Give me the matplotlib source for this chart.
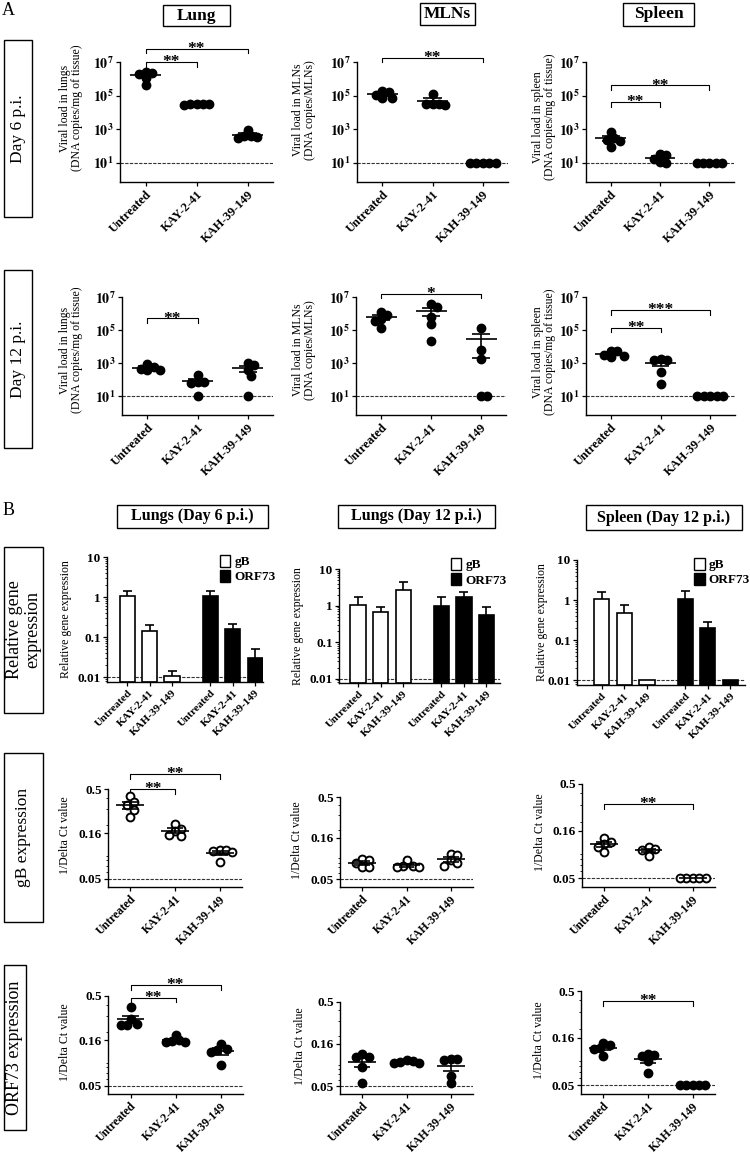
import numpy as np
import matplotlib
matplotlib.use("Agg")
import matplotlib.pyplot as plt
from matplotlib.patches import Rectangle
from matplotlib.ticker import LogLocator, NullFormatter
from matplotlib.transforms import blended_transform_factory

plt.rcParams["font.family"] = ["Liberation Serif", "DejaVu Serif"]
plt.rcParams["mathtext.fontset"] = "stix"

W, H = 750, 1154

GROUPS = ["Untreated", "KAY-2-41", "KAH-39-149"]

# ---------------------------------------------------------------------------
# Data
# ---------------------------------------------------------------------------

# A: viral load, log10 DNA copies (per mg tissue / per MLNs)
lung_d6 = [[6.42, 6.34, 6.28, 6.03, 5.62], [4.52, 4.50, 4.49, 4.47, 4.45], [2.95, 2.58, 2.58, 2.52, 2.48]]
mln_d6 = [[5.30, 5.20, 5.05, 4.85, 4.85], [5.10, 4.50, 4.50, 4.50, 4.45], [1, 1, 1, 1, 1]]
spleen_d6 = [[2.80, 2.45, 2.35, 2.30, 1.95], [1.50, 1.45, 1.20, 1.05, 1.00], [1, 1, 1, 1, 1]]
lung_d12 = [[2.95, 2.75, 2.65, 2.60, 2.55], [2.30, 1.84, 1.84, 1.76, 1.00], [3.00, 2.90, 2.56, 2.20, 1.00]]
mln_d12 = [[6.10, 5.90, 5.65, 5.55, 5.10], [6.56, 6.40, 5.76, 5.34, 4.34], [5.15, 3.78, 3.22, 1, 1]]
spleen_d12 = [[3.75, 3.70, 3.50, 3.45, 3.35], [3.24, 3.16, 3.16, 2.44, 1.70], [1, 1, 1, 1, 1]]

# B: relative gene expression (gB x3, ORF73 x3), bar height and upper SEM
rel_lung_d6 = [1.05, 0.14, 0.0105, 1.04, 0.16, 0.030]
rel_lung_d6_err = [0.35, 0.06, 0.004, 0.38, 0.05, 0.021]
rel_lung_d12 = [1.04, 0.66, 2.7, 1.0, 1.7, 0.54]
rel_lung_d12_err = [0.66, 0.28, 1.7, 0.7, 0.6, 0.35]
rel_spleen_d12 = [1.08, 0.48, 0.0104, 1.08, 0.20, 0.0104]
rel_spleen_d12_err = [0.55, 0.26, 0.0, 0.62, 0.09, 0.0]

# B: 1/Delta Ct values
gb_lung_d6 = [[0.42, 0.36, 0.33, 0.29, 0.245], [0.205, 0.18, 0.17, 0.155, 0.15], [0.105, 0.104, 0.103, 0.10, 0.077]]
gb_lung_d12 = [[0.089, 0.085, 0.080, 0.071, 0.070], [0.085, 0.073, 0.072, 0.071, 0.071], [0.103, 0.100, 0.085, 0.080, 0.073]]
gb_spleen_d12 = [[0.135, 0.12, 0.115, 0.108, 0.095], [0.107, 0.103, 0.099, 0.086], [0.05, 0.05, 0.05, 0.05, 0.05]]
orf_lung_d6 = [[0.375, 0.28, 0.245, 0.24, 0.235], [0.185, 0.16, 0.157, 0.155, 0.154], [0.146, 0.127, 0.125, 0.12, 0.085]]
orf_lung_d12 = [[0.12, 0.11, 0.11, 0.085, 0.054], [0.103, 0.10, 0.097, 0.095, 0.094], [0.105, 0.104, 0.102, 0.066, 0.054]]
orf_spleen_d12 = [[0.141, 0.134, 0.123, 0.12, 0.102], [0.107, 0.105, 0.103, 0.09, 0.067], [0.05, 0.05, 0.05, 0.05, 0.05]]

fig = plt.figure(figsize=(W / 100, H / 100), dpi=100)


def add_ax(l, t, r, b):
    """Axes placed in pixel coordinates (left, top, right, bottom)."""
    ax = fig.add_axes([l / W, 1 - b / H, (r - l) / W, (b - t) / H])
    ax.spines[["top", "right"]].set_visible(False)
    for s in ("left", "bottom"):
        ax.spines[s].set_linewidth(1.0)
    ax.tick_params(axis="both", which="major", direction="out", length=3, width=0.9, pad=1.5)
    ax.tick_params(axis="y", which="minor", direction="out", length=1.6, width=0.6)
    return ax


def box_text(txt, l, t, r, b, size, weight="normal", rot=0):
    fig.add_artist(Rectangle((l / W, 1 - b / H), (r - l) / W, (b - t) / H,
                             transform=fig.transFigure, fill=False, ec="k", lw=1.0))
    fig.text((l + r) / 2 / W, 1 - (t + b) / 2 / H, txt, ha="center", va="center",
             fontsize=size, fontweight=weight, rotation=rot, linespacing=1.1)


def swarm_offsets(ax, vals, dot_px=8.0, overlap=0.8):
    pos = ax.get_position()
    w_px, h_px = pos.width * W, pos.height * H
    lo, hi = np.log10(ax.get_ylim())
    x0, x1 = ax.get_xlim()
    ys = (np.log10(vals) - lo) / (hi - lo) * h_px
    d = dot_px * overlap
    placed, offs = [], []
    for y in ys:
        for k in range(60):
            c = ((k + 1) // 2) * d * 0.5 * (1 if k % 2 else -1)
            if all((c - px) ** 2 + (y - py) ** 2 >= d * d for px, py in placed):
                break
        placed.append((c, y))
        offs.append(c)
    return np.array(offs) * (x1 - x0) / w_px


def mean_sem(ax, x, v, mw=0.31, sw=0.18):
    m = v.mean()
    s = v.std(ddof=1) / np.sqrt(len(v))
    kw = dict(color="k", lw=1.2, zorder=4)
    ax.hlines(m, x - mw, x + mw, **kw)
    if s > 0:
        lo = max(m - s, ax.get_ylim()[0])
        ax.vlines(x, lo, m + s, **kw)
        ax.hlines([lo, m + s], x - sw, x + sw, **kw)


def bracket(ax, i, j, y, stars):
    tr = blended_transform_factory(ax.transData, ax.transAxes)
    lo, hi = np.log10(ax.get_ylim())
    yf = (np.log10(y) - lo) / (hi - lo)
    drop = 4.5 / (ax.get_position().height * H)
    ax.plot([i, i, j, j], [yf - drop, yf, yf, yf - drop], color="k", lw=0.8,
            transform=tr, clip_on=False)
    ax.annotate(stars, xy=((i + j) / 2, yf), xycoords=tr, xytext=(0, -3.0),
                textcoords="offset points", ha="center", va="baseline",
                fontsize=12.5, fontweight="bold", annotation_clip=False)


def scatter_panel(rect, groups, ylim, ticks, ticklabels, dl, ylabel, ylabel_pos, sig,
                  filled=True, tickfont=10, xfont=9, ylabfont=8.5):
    ax = add_ax(*rect)
    ax.set_yscale("log")
    ax.set_ylim(*ylim)
    ax.set_xlim(-0.5, 2.5)
    ax.axhline(dl, color="#333333", lw=0.8, ls=(0, (3, 1.2)), zorder=1)
    for i, vals in enumerate(groups):
        v = np.asarray(vals, float)
        off = swarm_offsets(ax, v)
        ax.scatter(i + off, v, s=32, facecolor="k" if filled else "white",
                   edgecolor="k", lw=1.4, zorder=3, clip_on=False)
        mean_sem(ax, i, v)
    ax.set_xticks(range(3))
    ax.set_xticklabels(GROUPS, rotation=45, ha="right", rotation_mode="anchor",
                       fontsize=xfont, fontweight="bold")
    ax.set_yticks(ticks)
    ax.set_yticklabels(ticklabels, fontsize=tickfont, fontweight="bold")
    for i, j, y, stars in sig:
        bracket(ax, i, j, y, stars)
    l, t, r, b = rect
    lx, ly = ylabel_pos
    fig.text(lx / W, 1 - ly / H, ylabel, rotation=90, ha="center",
             va="center", fontsize=ylabfont, linespacing=1.05)
    return ax


def bar_panel(rect, heights, errs, xlim, ylabel_x, leg_anchor):
    ax = add_ax(*rect)
    ax.set_yscale("log")
    ylo = 10 ** -2.12
    ax.set_ylim(ylo, 10)
    ax.set_xlim(*xlim)
    xs = np.r_[np.arange(3), np.arange(3) + 3.7]
    colors = ["white"] * 3 + ["black"] * 3
    h = np.asarray(heights, float)
    e = np.asarray(errs, float)
    ax.bar(xs, h - ylo, bottom=ylo, width=0.68, color=colors, edgecolor="k", lw=1.2, zorder=2)
    for x, hh, ee in zip(xs, h, e):
        if ee > 0:
            ax.vlines(x, hh, hh + ee, color="k", lw=1.2, zorder=3)
            ax.hlines(hh + ee, x - 0.2, x + 0.2, color="k", lw=1.2, zorder=3)
    ax.axhline(0.01, color="#333333", lw=0.8, ls=(0, (3, 1.2)), zorder=1)
    ax.set_xticks(xs)
    ax.set_xticklabels(GROUPS * 2, rotation=45, ha="right", rotation_mode="anchor",
                       fontsize=8, fontweight="bold")
    ax.set_yticks([0.01, 0.1, 1, 10])
    ax.set_yticklabels(["0.01", "0.1", "1", "10"], fontsize=9.5, fontweight="bold")
    ax.yaxis.set_minor_locator(LogLocator(subs="auto"))
    ax.yaxis.set_minor_formatter(NullFormatter())
    handles = [Rectangle((0, 0), 1, 1, fc="white", ec="k", lw=1.0),
               Rectangle((0, 0), 1, 1, fc="black", ec="k", lw=1.0)]
    ax.legend(handles, ["gB", "ORF73"], loc="upper right", bbox_to_anchor=leg_anchor,
              frameon=False, prop={"weight": "bold", "size": 9.5}, handlelength=0.8,
              handleheight=1.1, handletextpad=0.3, labelspacing=0.1, borderpad=0,
              borderaxespad=0)
    l, t, r, b = rect
    fig.text(ylabel_x / W, 1 - (t + b) / 2 / H, "Relative gene expression", rotation=90,
             ha="center", va="center", fontsize=8.5)
    return ax


# ---------------------------------------------------------------------------
# Section A
# ---------------------------------------------------------------------------
fig.text(2 / W, 1 - 2 / H, "A", ha="left", va="top", fontsize=13)
box_text("Lung", 163, 5, 230, 26, 12.5, "bold")
box_text("MLNs", 420, 3, 475, 25, 12.5, "bold")
box_text("Spleen", 623, 3, 694, 26, 12.5, "bold")
box_text("Day 6 p.i.", 4, 40, 32, 217, 12.5, rot=90)
box_text("Day 12 p.i.", 4, 270, 32, 448, 12.5, rot=90)

A_LIM = (10 ** -0.15, 1e7)
A_TICKS = [1e1, 1e3, 1e5, 1e7]
A_LABELS = [r"$\mathbf{10^{%d}}$" % k for k in (1, 3, 5, 7)]
lab_lung = "Viral load in lungs\n(DNA copies/mg of tissue)"
lab_mln = "Viral load in MLNs\n(DNA copies/MLNs)"
lab_spl = "Viral load in spleen\n(DNA copies/mg of tissue)"


def to_copies(d):
    return [10.0 ** np.asarray(g, float) for g in d]


scatter_panel((120, 62, 273, 182), to_copies(lung_d6), A_LIM, A_TICKS, A_LABELS, 10,
              lab_lung, (71, 108), [(0, 1, 1e7, "**"), (0, 2, 10 ** 7.8, "**")])
scatter_panel((357, 62, 508, 182), to_copies(mln_d6), A_LIM, A_TICKS, A_LABELS, 10,
              lab_mln, (304, 110), [(0, 2, 10 ** 7.25, "**")])
scatter_panel((586, 62, 734, 182), to_copies(spleen_d6), A_LIM, A_TICKS, A_LABELS, 10,
              lab_spl, (544, 117), [(0, 1, 10 ** 4.6, "**"), (0, 2, 10 ** 5.6, "**")])

scatter_panel((122, 297, 273, 415), to_copies(lung_d12), A_LIM, A_TICKS, A_LABELS, 10,
              lab_lung, (71, 350), [(0, 1, 10 ** 5.7, "**")])
scatter_panel((356, 297, 506, 415), to_copies(mln_d12), A_LIM, A_TICKS, A_LABELS, 10,
              lab_mln, (304, 350), [(0, 2, 10 ** 7.2, "*")])
scatter_panel((586, 297, 735, 415), to_copies(spleen_d12), A_LIM, A_TICKS, A_LABELS, 10,
              lab_spl, (544, 352), [(0, 1, 10 ** 5.15, "**"), (0, 2, 10 ** 6.2, "***")])

# ---------------------------------------------------------------------------
# Section B
# ---------------------------------------------------------------------------
fig.text(3 / W, 1 - 502 / H, "B", ha="left", va="top", fontsize=13)
box_text("Lungs (Day 6 p.i.)", 117, 505, 268, 528, 11.5, "bold")
box_text("Lungs (Day 12 p.i.)", 338, 505, 495, 528, 11.5, "bold")
box_text("Spleen (Day 12 p.i.)", 586, 505, 742, 530, 11.5, "bold")
box_text("Relative gene\nexpression", 4, 547, 43, 713, 13, rot=90)
box_text("gB expression", 4, 753, 43, 922, 12.5, rot=90)
box_text("ORF73 expression", 4, 965, 26, 1130, 13, rot=90)

bar_panel((107, 557, 263, 682), rel_lung_d6, rel_lung_d6_err, (-0.9, 6.05), 66, (1.08, 1.02))
bar_panel((339, 569, 500, 683), rel_lung_d12, rel_lung_d12_err, (-0.85, 6.3), 298, (1.04, 1.1))
bar_panel((577, 560, 745, 685), rel_spleen_d12, rel_spleen_d12_err, (-1.1, 6.35), 542, (1.03, 1.02))

B_LIM = (0.0405, 0.5)
B_TICKS = [0.05, 0.16, 0.5]
B_LABELS = ["0.05", "0.16", "0.5"]
lab_ct = "1/Delta Ct value"
ct_kw = dict(tickfont=9.5, xfont=8.5, ylabfont=8.5)

dct_axes = [
    scatter_panel((108, 789, 242, 887), gb_lung_d6, B_LIM, B_TICKS, B_LABELS, 0.05, lab_ct, (65, 835),
                  [(0, 1, 0.5, "**"), (0, 2, 0.73, "**")], filled=False, **ct_kw),
    scatter_panel((340, 797, 473, 887), gb_lung_d12, B_LIM, B_TICKS, B_LABELS, 0.05, lab_ct, (297, 840),
                  [], filled=False, **ct_kw),
    scatter_panel((582, 784, 715, 887), gb_spleen_d12, B_LIM, B_TICKS, B_LABELS, 0.05, lab_ct, (540, 832),
                  [(0, 2, 0.305, "**")], filled=False, **ct_kw),
    scatter_panel((108, 996, 243, 1094), orf_lung_d6, B_LIM, B_TICKS, B_LABELS, 0.05, lab_ct, (65, 1042),
                  [(0, 1, 0.48, "**"), (0, 2, 0.66, "**")], **ct_kw),
    scatter_panel((340, 1002, 473, 1094), orf_lung_d12, B_LIM, B_TICKS, B_LABELS, 0.05, lab_ct, (300, 1046),
                  [], **ct_kw),
    scatter_panel((581, 991, 715, 1094), orf_spleen_d12, B_LIM, B_TICKS, B_LABELS, 0.05, lab_ct, (539, 1040),
                  [(0, 2, 0.39, "**")], **ct_kw),
]
for ax in dct_axes:
    ax.yaxis.set_minor_locator(LogLocator(subs="auto"))
    ax.yaxis.set_minor_formatter(NullFormatter())

fig.savefig("out.png", dpi=100)
